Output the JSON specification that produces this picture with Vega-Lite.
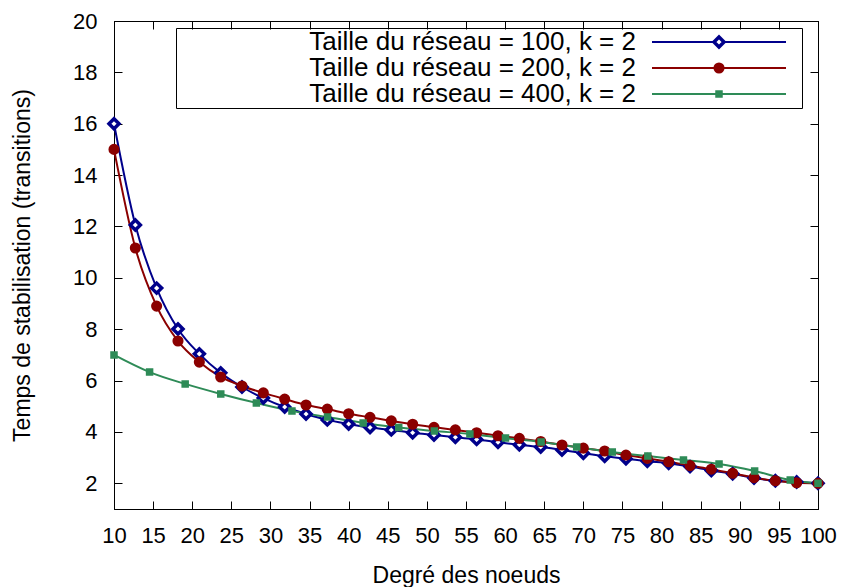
{
  "$schema": "https://vega.github.io/schema/vega-lite/v6.json",
  "width": 704,
  "height": 488,
  "autosize": {"type": "none"},
  "padding": {"left": 114, "top": 21, "right": 27, "bottom": 78},
  "background": "white",
  "config": {
    "font": "Liberation Sans",
    "view": {"stroke": "black", "strokeWidth": 1},
    "axis": {"grid": false, "domainColor": "black", "tickColor": "black", "labelColor": "black", "titleColor": "black", "titleFontWeight": "normal"}
  },
  "data": {
    "values": [
      {"s": "Taille du réseau = 100, k = 2", "deg": 10.0, "t": 16.0},
      {"s": "Taille du réseau = 100, k = 2", "deg": 12.73, "t": 12.06},
      {"s": "Taille du réseau = 100, k = 2", "deg": 15.45, "t": 9.6},
      {"s": "Taille du réseau = 100, k = 2", "deg": 18.18, "t": 8.01},
      {"s": "Taille du réseau = 100, k = 2", "deg": 20.91, "t": 7.04},
      {"s": "Taille du réseau = 100, k = 2", "deg": 23.64, "t": 6.3},
      {"s": "Taille du réseau = 100, k = 2", "deg": 26.36, "t": 5.75},
      {"s": "Taille du réseau = 100, k = 2", "deg": 29.09, "t": 5.32},
      {"s": "Taille du réseau = 100, k = 2", "deg": 31.82, "t": 4.97},
      {"s": "Taille du réseau = 100, k = 2", "deg": 34.55, "t": 4.7},
      {"s": "Taille du réseau = 100, k = 2", "deg": 37.27, "t": 4.47},
      {"s": "Taille du réseau = 100, k = 2", "deg": 40.0, "t": 4.31},
      {"s": "Taille du réseau = 100, k = 2", "deg": 42.73, "t": 4.17},
      {"s": "Taille du réseau = 100, k = 2", "deg": 45.45, "t": 4.08},
      {"s": "Taille du réseau = 100, k = 2", "deg": 48.18, "t": 3.97},
      {"s": "Taille du réseau = 100, k = 2", "deg": 50.91, "t": 3.88},
      {"s": "Taille du réseau = 100, k = 2", "deg": 53.64, "t": 3.79},
      {"s": "Taille du réseau = 100, k = 2", "deg": 56.36, "t": 3.71},
      {"s": "Taille du réseau = 100, k = 2", "deg": 59.09, "t": 3.6},
      {"s": "Taille du réseau = 100, k = 2", "deg": 61.82, "t": 3.5},
      {"s": "Taille du réseau = 100, k = 2", "deg": 64.55, "t": 3.41},
      {"s": "Taille du réseau = 100, k = 2", "deg": 67.27, "t": 3.3},
      {"s": "Taille du réseau = 100, k = 2", "deg": 70.0, "t": 3.17},
      {"s": "Taille du réseau = 100, k = 2", "deg": 72.73, "t": 3.05},
      {"s": "Taille du réseau = 100, k = 2", "deg": 75.45, "t": 2.96},
      {"s": "Taille du réseau = 100, k = 2", "deg": 78.18, "t": 2.86},
      {"s": "Taille du réseau = 100, k = 2", "deg": 80.91, "t": 2.78},
      {"s": "Taille du réseau = 100, k = 2", "deg": 83.64, "t": 2.65},
      {"s": "Taille du réseau = 100, k = 2", "deg": 86.36, "t": 2.5},
      {"s": "Taille du réseau = 100, k = 2", "deg": 89.09, "t": 2.37},
      {"s": "Taille du réseau = 100, k = 2", "deg": 91.82, "t": 2.21},
      {"s": "Taille du réseau = 100, k = 2", "deg": 94.55, "t": 2.1},
      {"s": "Taille du réseau = 100, k = 2", "deg": 97.27, "t": 2.05},
      {"s": "Taille du réseau = 100, k = 2", "deg": 100.0, "t": 2.0},
      {"s": "Taille du réseau = 200, k = 2", "deg": 10.0, "t": 15.0},
      {"s": "Taille du réseau = 200, k = 2", "deg": 12.73, "t": 11.16},
      {"s": "Taille du réseau = 200, k = 2", "deg": 15.45, "t": 8.9},
      {"s": "Taille du réseau = 200, k = 2", "deg": 18.18, "t": 7.54},
      {"s": "Taille du réseau = 200, k = 2", "deg": 20.91, "t": 6.72},
      {"s": "Taille du réseau = 200, k = 2", "deg": 23.64, "t": 6.14},
      {"s": "Taille du réseau = 200, k = 2", "deg": 26.36, "t": 5.79},
      {"s": "Taille du réseau = 200, k = 2", "deg": 29.09, "t": 5.52},
      {"s": "Taille du réseau = 200, k = 2", "deg": 31.82, "t": 5.28},
      {"s": "Taille du réseau = 200, k = 2", "deg": 34.55, "t": 5.05},
      {"s": "Taille du réseau = 200, k = 2", "deg": 37.27, "t": 4.89},
      {"s": "Taille du réseau = 200, k = 2", "deg": 40.0, "t": 4.71},
      {"s": "Taille du réseau = 200, k = 2", "deg": 42.73, "t": 4.57},
      {"s": "Taille du réseau = 200, k = 2", "deg": 45.45, "t": 4.43},
      {"s": "Taille du réseau = 200, k = 2", "deg": 48.18, "t": 4.3},
      {"s": "Taille du réseau = 200, k = 2", "deg": 50.91, "t": 4.18},
      {"s": "Taille du réseau = 200, k = 2", "deg": 53.64, "t": 4.08},
      {"s": "Taille du réseau = 200, k = 2", "deg": 56.36, "t": 3.97},
      {"s": "Taille du réseau = 200, k = 2", "deg": 59.09, "t": 3.85},
      {"s": "Taille du réseau = 200, k = 2", "deg": 61.82, "t": 3.75},
      {"s": "Taille du réseau = 200, k = 2", "deg": 64.55, "t": 3.63},
      {"s": "Taille du réseau = 200, k = 2", "deg": 67.27, "t": 3.49},
      {"s": "Taille du réseau = 200, k = 2", "deg": 70.0, "t": 3.37},
      {"s": "Taille du réseau = 200, k = 2", "deg": 72.73, "t": 3.26},
      {"s": "Taille du réseau = 200, k = 2", "deg": 75.45, "t": 3.1},
      {"s": "Taille du réseau = 200, k = 2", "deg": 78.18, "t": 2.97},
      {"s": "Taille du réseau = 200, k = 2", "deg": 80.91, "t": 2.84},
      {"s": "Taille du réseau = 200, k = 2", "deg": 83.64, "t": 2.69},
      {"s": "Taille du réseau = 200, k = 2", "deg": 86.36, "t": 2.55},
      {"s": "Taille du réseau = 200, k = 2", "deg": 89.09, "t": 2.39},
      {"s": "Taille du réseau = 200, k = 2", "deg": 91.82, "t": 2.22},
      {"s": "Taille du réseau = 200, k = 2", "deg": 94.55, "t": 2.1},
      {"s": "Taille du réseau = 200, k = 2", "deg": 97.27, "t": 2.02},
      {"s": "Taille du réseau = 200, k = 2", "deg": 100.0, "t": 2.0},
      {"s": "Taille du réseau = 400, k = 2", "deg": 10.0, "t": 7.0},
      {"s": "Taille du réseau = 400, k = 2", "deg": 14.55, "t": 6.33},
      {"s": "Taille du réseau = 400, k = 2", "deg": 19.1, "t": 5.87},
      {"s": "Taille du réseau = 400, k = 2", "deg": 23.65, "t": 5.48},
      {"s": "Taille du réseau = 400, k = 2", "deg": 28.2, "t": 5.13},
      {"s": "Taille du réseau = 400, k = 2", "deg": 32.75, "t": 4.82},
      {"s": "Taille du réseau = 400, k = 2", "deg": 37.3, "t": 4.58},
      {"s": "Taille du réseau = 400, k = 2", "deg": 41.85, "t": 4.35},
      {"s": "Taille du réseau = 400, k = 2", "deg": 46.4, "t": 4.17},
      {"s": "Taille du réseau = 400, k = 2", "deg": 50.95, "t": 4.04},
      {"s": "Taille du réseau = 400, k = 2", "deg": 55.5, "t": 3.92},
      {"s": "Taille du réseau = 400, k = 2", "deg": 60.05, "t": 3.76},
      {"s": "Taille du réseau = 400, k = 2", "deg": 64.6, "t": 3.61},
      {"s": "Taille du réseau = 400, k = 2", "deg": 69.15, "t": 3.41},
      {"s": "Taille du réseau = 400, k = 2", "deg": 73.7, "t": 3.22},
      {"s": "Taille du réseau = 400, k = 2", "deg": 78.25, "t": 3.06},
      {"s": "Taille du réseau = 400, k = 2", "deg": 82.8, "t": 2.91},
      {"s": "Taille du réseau = 400, k = 2", "deg": 87.35, "t": 2.75},
      {"s": "Taille du réseau = 400, k = 2", "deg": 91.9, "t": 2.48},
      {"s": "Taille du réseau = 400, k = 2", "deg": 96.45, "t": 2.13},
      {"s": "Taille du réseau = 400, k = 2", "deg": 100.0, "t": 2.0}
    ]
  },
  "layer": [
    {
      "mark": {"type": "line", "interpolate": "monotone", "strokeWidth": 2},
      "encoding": {
        "x": {
          "field": "deg", "type": "quantitative",
          "scale": {"domain": [10, 100], "nice": false, "zero": false},
          "axis": {
            "orient": "bottom",
            "values": [10, 15, 20, 25, 30, 35, 40, 45, 50, 55, 60, 65, 70, 75, 80, 85, 90, 95, 100],
            "title": "Degré des noeuds",
            "tickSize": -8, "labelPadding": 24, "labelFontSize": 22,
            "labelFlush": false, "labelOverlap": false,
            "titleFontSize": 23, "titlePadding": 18
          }
        },
        "y": {
          "field": "t", "type": "quantitative",
          "scale": {"domain": [1, 20], "nice": false, "zero": false},
          "axis": {
            "orient": "left",
            "values": [2, 4, 6, 8, 10, 12, 14, 16, 18, 20],
            "title": "Temps de stabilisation (transitions)",
            "tickSize": -8, "labelPadding": 25, "labelFontSize": 22,
            "labelFlush": false, "labelOverlap": false,
            "titleFontSize": 23, "titlePadding": 38
          }
        },
        "color": {
          "field": "s", "type": "nominal",
          "scale": {
            "domain": ["Taille du réseau = 100, k = 2", "Taille du réseau = 200, k = 2", "Taille du réseau = 400, k = 2"],
            "range": ["#00008b", "#8b0000", "#2e8b57"]
          },
          "legend": {
            "orient": "none", "legendX": 62, "legendY": 7, "padding": 1, "title": null,
            "strokeColor": "black",
            "symbolType": "stroke", "symbolSize": 17956, "symbolStrokeWidth": 2,
            "clipHeight": 26, "rowPadding": 0,
            "labelFontSize": 26, "labelOpacity": 0, "labelLimit": 1000,
            "labelAlign": "right", "labelOffset": 14, "symbolOffset": 474
          }
        }
      }
    },
    {
      "mark": {"type": "point", "opacity": 1, "strokeWidth": 3.5},
      "encoding": {
        "x": {
          "field": "deg", "type": "quantitative",
          "axis": {
            "orient": "top",
            "values": [10, 15, 20, 25, 30, 35, 40, 45, 50, 55, 60, 65, 70, 75, 80, 85, 90, 95, 100],
            "labels": false, "title": null, "tickSize": -8
          }
        },
        "y": {
          "field": "t", "type": "quantitative",
          "axis": {
            "orient": "right",
            "values": [2, 4, 6, 8, 10, 12, 14, 16, 18, 20],
            "labels": false, "title": null, "tickSize": -8
          }
        },
        "shape": {
          "field": "s", "type": "nominal",
          "scale": {"range": ["diamond", "circle", "square"]},
          "legend": {
            "orient": "none", "legendX": 62, "legendY": 7, "padding": 1, "title": null,
            "rowPadding": 0,
            "labelFontSize": 26, "labelColor": "black", "labelLimit": 1000,
            "labelAlign": "right", "labelOffset": -96, "symbolOffset": 529,
            "symbolStrokeWidth": 3.5
          }
        },
        "fill": {
          "field": "s", "type": "nominal",
          "scale": {"range": ["white", "#8b0000", "#2e8b57"]},
          "legend": {"title": null}
        },
        "stroke": {
          "field": "s", "type": "nominal",
          "scale": {"range": ["#00008b", "#8b0000", "#2e8b57"]},
          "legend": {"title": null}
        },
        "size": {
          "field": "s", "type": "nominal",
          "scale": {"range": [100, 16, 25]},
          "legend": {"title": null}
        }
      }
    }
  ],
  "resolve": {"axis": {"x": "independent", "y": "independent"}}
}
